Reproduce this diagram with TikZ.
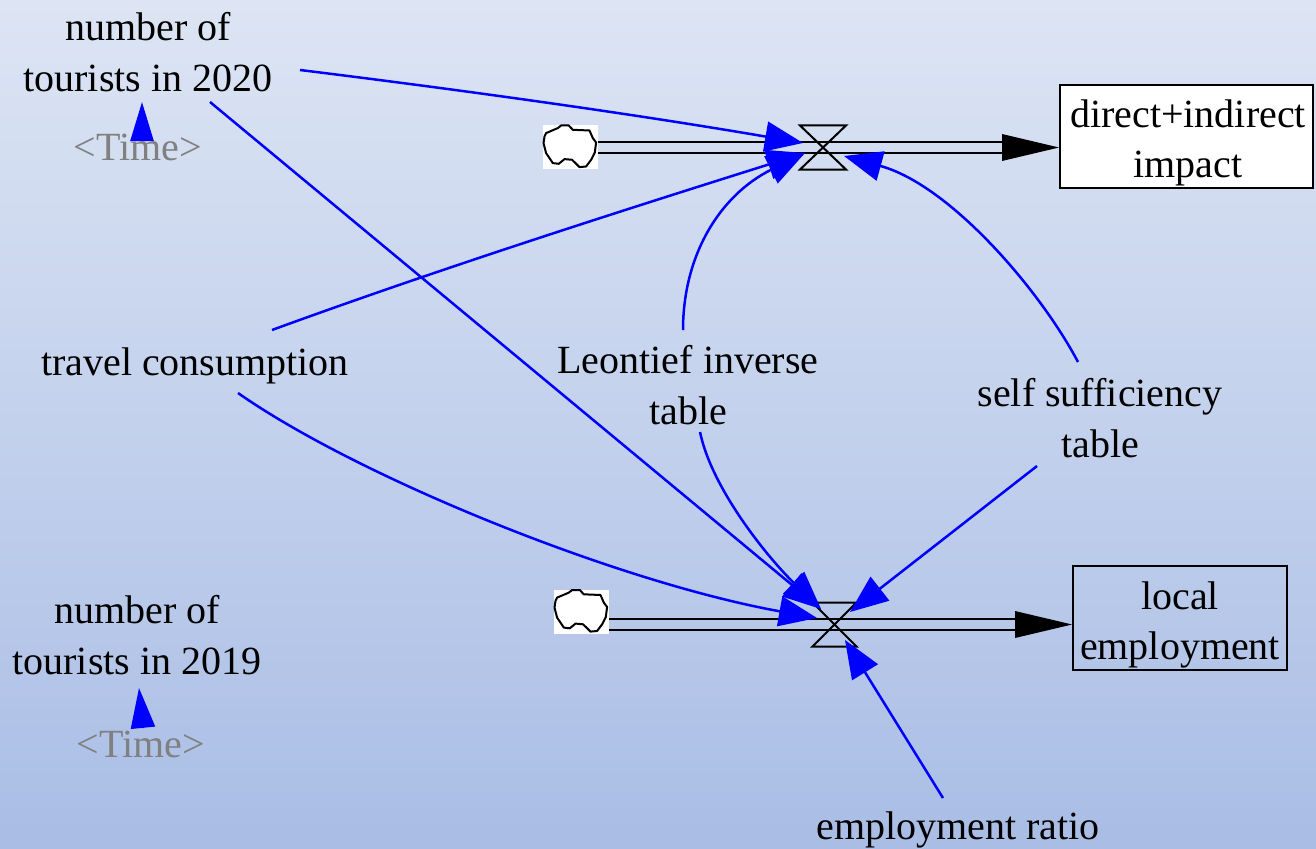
\documentclass[tikz,border=0pt]{standalone}
\usepackage{fontspec}
\setmainfont{Liberation Serif}
\usetikzlibrary{arrows.meta,calc}
\definecolor{bgtop}{RGB}{221,229,244}
\definecolor{bgbot}{RGB}{169,189,229}
\definecolor{pipetop}{RGB}{211,221,241}
\definecolor{pipebot}{RGB}{183,200,233}
\definecolor{timegray}{RGB}{128,128,128}
\definecolor{connblue}{RGB}{0,0,255}
\begin{document}
\begin{tikzpicture}[x=1pt,y=-1pt,
  lbl/.style={align=center, font=\rmfamily\fontsize{40}{51}\selectfont, inner sep=0pt},
  tlbl/.style={lbl, text=timegray},
  conn/.style={draw=connblue, line width=2.5pt, -{Triangle[length=38pt,width=30pt]}},
  pipe/.style={draw=black, line width=2pt, double distance=9pt},
  valve/.style={draw=black, line width=2pt, line join=miter},
  stock/.style={draw=black, line width=2pt, inner sep=0pt},
  stocktext/.style={align=center, inner sep=0pt, font=\rmfamily\fontsize{40}{50}\selectfont},
  cloudbox/.style={fill=white, inner sep=0pt, minimum width=55pt, minimum height=44pt},
  cloudline/.style={draw=black, line width=2pt, line join=round}
]
\useasboundingbox (0,0) rectangle (1316,848);
\shade[top color=bgtop, bottom color=bgbot] (0,0) rectangle (1316,848);

% valves (positions)
\coordinate (valve1) at (823,147.5);
\coordinate (valve2) at (834.5,624.5);

% stocks
\node[stock, fill=white, minimum width=253pt, minimum height=103pt] (box1) at (1186.5,136.5) {};
\node[stocktext] (box1t) at (1188,143) {direct+indirect\\impact};
\node[stock, minimum width=214pt, minimum height=104pt] (box2) at (1180,618) {};
\node[stocktext] (box2t) at (1180,625) {local\\employment};

% clouds
\node[cloudbox] (cloud1) at (570.5,147) {};
\node[cloudbox] (cloud2) at (581.5,611.5) {};
\foreach \c in {cloud1,cloud2}{
  \draw[cloudline] ($(\c.north west)+(3.3,8.3)$) -- ++(11.7,-5) -- ++(3.3,-2.6) -- ++(7.7,0) -- ++(4,4.3) -- ++(16.7,0.7) -- ++(3.3,7.6) -- ++(3.3,4.4) -- ++(-1.3,10) -- ++(-3.7,7.3) -- ++(-5,6.7) -- ++(-6.6,0.6) -- ++(-7.4,-7.3) -- ++(-7.6,-0.7) -- ++(-5.7,4.7) -- ++(-6,-0.7) -- ++(-6.7,-10) -- ++(-2.6,-10) -- ++(1,-6.6) -- cycle;
}

% pipes
\draw[pipe, double=pipetop] (cloud1.east |- valve1) -- ($(box1.west |- valve1)+(-50,0)$);
\draw[pipe, double=pipebot] (cloud2.east |- valve2) -- ($(box2.west |- valve2)+(-50,0)$);
\fill[black] (box1.west |- valve1) -- ++(-57,-13.5) -- ++(0,27) -- cycle;
\fill[black] (box2.west |- valve2) -- ++(-57,-13.5) -- ++(0,27) -- cycle;

% valves
\draw[valve] ($(valve1)+(-23,-22)$) -- ++(46,0) -- ++(-46,44) -- ++(46,0) -- cycle;
\draw[valve] ($(valve2)+(-22,-22)$) -- ++(44,0) -- ++(-44,44) -- ++(44,0) -- cycle;

% labels
\node[lbl] (t2020) at (148,52) {number of\\tourists in 2020};
\node[tlbl] (time1) at (138,147) {<Time>};
\node[lbl] (travel) at (195,366) {travel consumption};
\node[lbl] (leo) at (688,385) {Leontief inverse\\table};
\node[lbl] (self) at (1100,418) {self sufficiency\\table};
\node[lbl] (t2019) at (137,635) {number of\\tourists in 2019};
\node[tlbl] (time2) at (141,744) {<Time>};
\node[lbl] (emp) at (958,830) {employment ratio};

% connector end points
\coordinate (v1a) at (803,143);
\coordinate (v1b) at (805,153);
\coordinate (v1c) at (844,156);
\coordinate (v2a) at (821,609);
\coordinate (v2b) at (817,618);
\coordinate (v2c) at (850,612);
\coordinate (v2d) at (845,640);
\coordinate (t2020tip) at (142,102);
\coordinate (t2019tip) at (139,688);

% connector start points
\coordinate (s1) at (300,70);
\coordinate (s2) at (210,102);
\coordinate (s3) at (272,330);
\coordinate (s4) at (238,393);
\coordinate (s5) at (683,330);
\coordinate (s6) at (700,432);
\coordinate (s7) at (1078,362);
\coordinate (s8) at (1037,466);
\coordinate (s9) at (943,798);

% connectors
\draw[conn] (s1) .. controls (470,91) and (640,115) .. (v1a);
\draw[conn] (s2) -- (v2a);
\draw[conn] (s3) .. controls (450,265) and (640,205) .. (v1b);
\draw[conn] (s4) .. controls (358,477) and (617,582) .. (v2b);
\draw[conn] (s5) .. controls (683,255) and (720,195) .. (v1b);
\draw[conn] (s6) .. controls (712,490) and (770,560) .. (v2a);
\draw[conn] (s7) .. controls (1040,290) and (950,185) .. (v1c);
\draw[conn] (s8) -- (v2c);
\draw[conn] (s9) -- (v2d);
\draw[conn, -{Triangle[length=39pt,width=23pt]}] (142,141) -- (t2020tip);
\draw[conn, -{Triangle[length=40pt,width=24pt]}] (143,728) -- (t2019tip);
\end{tikzpicture}
\end{document}
